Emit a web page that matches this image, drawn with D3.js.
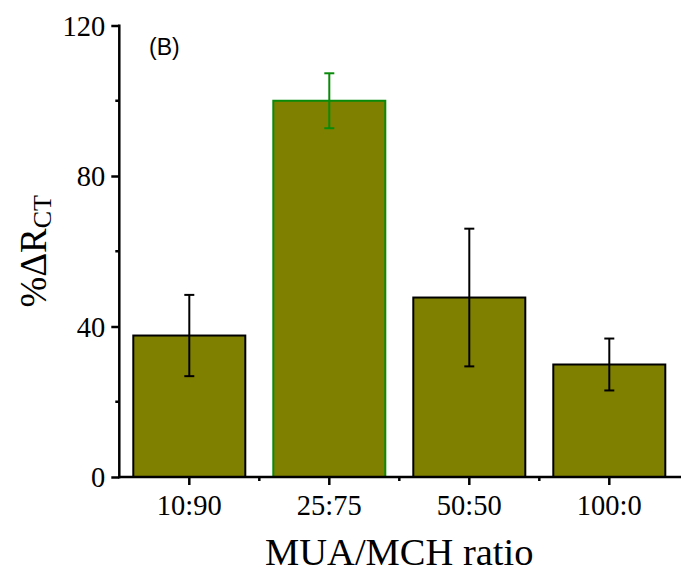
<!DOCTYPE html>
<html>
<head>
<meta charset="utf-8">
<script src="https://cdn.jsdelivr.net/npm/d3@7"></script>
<style>
  html, body { margin: 0; padding: 0; background: #fff; }
  svg { display: block; }
  text { font-family: "Liberation Serif", "Times New Roman", serif; fill: #000; }
</style>
</head>
<body>
<svg id="chart" width="681" height="573"></svg>
<script>
// MUA/MCH monolayer composition vs. relative change in charge-transfer resistance
const categories = ["10:90", "25:75", "50:50", "100:0"];
const values = [37.6, 100, 47.7, 29.9];
const errors = [10.8, 7.3, 18.3, 6.9];
const highlight = [false, true, false, false];
const yMajorTicks = [0, 40, 80, 120];
const yMinorTicks = [20, 60, 100];

const svg = d3.select("#chart");
const plotLeft = 119.3, plotRight = 679.3, plotTop = 25.5, plotBottom = 477;

const x = d3.scaleBand().domain(categories).range([plotLeft, plotRight]).paddingInner(0.2).paddingOuter(0.1);
const y = d3.scaleLinear().domain([0, 120]).range([plotBottom, plotTop]);

const fillColor = "#808000";
const edgeDark = "#000";
const edgeGreen = "#0a8a0a";
const tickFont = "28.5px";

// bars
svg.append("g").selectAll("rect")
  .data(categories)
  .join("rect")
  .attr("x", (d) => x(d))
  .attr("width", x.bandwidth())
  .attr("y", (d, i) => y(values[i]))
  .attr("height", (d, i) => y(0) - y(values[i]))
  .attr("fill", fillColor)
  .attr("stroke", (d, i) => highlight[i] ? edgeGreen : edgeDark)
  .attr("stroke-width", 2);

// error bars
const capHalf = 5;
const eb = svg.append("g").selectAll("g")
  .data(categories)
  .join("g")
  .attr("stroke", (d, i) => highlight[i] ? edgeGreen : edgeDark)
  .attr("stroke-width", 2);
eb.append("line")
  .attr("x1", (d) => x(d) + x.bandwidth() / 2)
  .attr("x2", (d) => x(d) + x.bandwidth() / 2)
  .attr("y1", (d, i) => y(values[i] + errors[i]))
  .attr("y2", (d, i) => y(values[i] - errors[i]));
eb.append("line")
  .attr("x1", (d) => x(d) + x.bandwidth() / 2 - capHalf)
  .attr("x2", (d) => x(d) + x.bandwidth() / 2 + capHalf)
  .attr("y1", (d, i) => y(values[i] + errors[i]))
  .attr("y2", (d, i) => y(values[i] + errors[i]));
eb.append("line")
  .attr("x1", (d) => x(d) + x.bandwidth() / 2 - capHalf)
  .attr("x2", (d) => x(d) + x.bandwidth() / 2 + capHalf)
  .attr("y1", (d, i) => y(values[i] - errors[i]))
  .attr("y2", (d, i) => y(values[i] - errors[i]));

// y axis
const yAxis = svg.append("g").attr("transform", `translate(${plotLeft},0)`);
yAxis.call(d3.axisLeft(y).tickValues(yMajorTicks).tickSize(8).tickPadding(6).tickFormat(d3.format("d")));
yAxis.select(".domain").attr("stroke-width", 2.5).attr("d", `M0,${plotBottom + 1.2}V${plotTop - 1}`);
yAxis.selectAll(".tick line").attr("stroke-width", 2.5);
yAxis.selectAll(".tick text").style("font-size", tickFont).attr("dy", "0.34em");
svg.append("g").attr("transform", `translate(${plotLeft},0)`)
  .selectAll("line").data(yMinorTicks).join("line")
  .attr("x1", -4).attr("x2", 0)
  .attr("y1", (d) => y(d)).attr("y2", (d) => y(d))
  .attr("stroke", "#000").attr("stroke-width", 2.5);

// x axis
const xAxis = svg.append("g").attr("transform", `translate(0,${plotBottom})`);
xAxis.call(d3.axisBottom(x).tickSize(8).tickPadding(10).tickSizeOuter(0));
xAxis.select(".domain").attr("stroke-width", 2.5).attr("d", `M${plotLeft - 1.2},0H681`);
xAxis.selectAll(".tick line").attr("stroke-width", 2.5);
xAxis.selectAll(".tick text").style("font-size", tickFont).attr("dy", "0.71em");
// minor ticks between categories
const step = x.step();
const minorX = categories.slice(0, -1).map((c) => x(c) + x.bandwidth() / 2 + step / 2);
svg.append("g").attr("transform", `translate(0,${plotBottom})`)
  .selectAll("line").data(minorX).join("line")
  .attr("x1", (d) => d).attr("x2", (d) => d)
  .attr("y1", 0).attr("y2", 4)
  .attr("stroke", "#000").attr("stroke-width", 2.5);

// axis titles
svg.append("text")
  .attr("x", (plotLeft + plotRight) / 2).attr("y", 565)
  .attr("text-anchor", "middle")
  .style("font-size", "38.5px")
  .text("MUA/MCH ratio");

const yTitle = svg.append("text")
  .attr("transform", `translate(46,${(plotTop + plotBottom) / 2}) rotate(-90)`)
  .attr("text-anchor", "middle")
  .style("font-size", "37px");
yTitle.append("tspan").text("%ΔR");
yTitle.append("tspan").attr("dy", "0.2em").style("font-size", "26px").text("CT");

// panel label
svg.append("text")
  .attr("x", 149).attr("y", 55)
  .style("font-family", "'Liberation Sans', Arial, sans-serif")
  .style("font-size", "23px")
  .text("(B)");
</script>
</body>
</html>
